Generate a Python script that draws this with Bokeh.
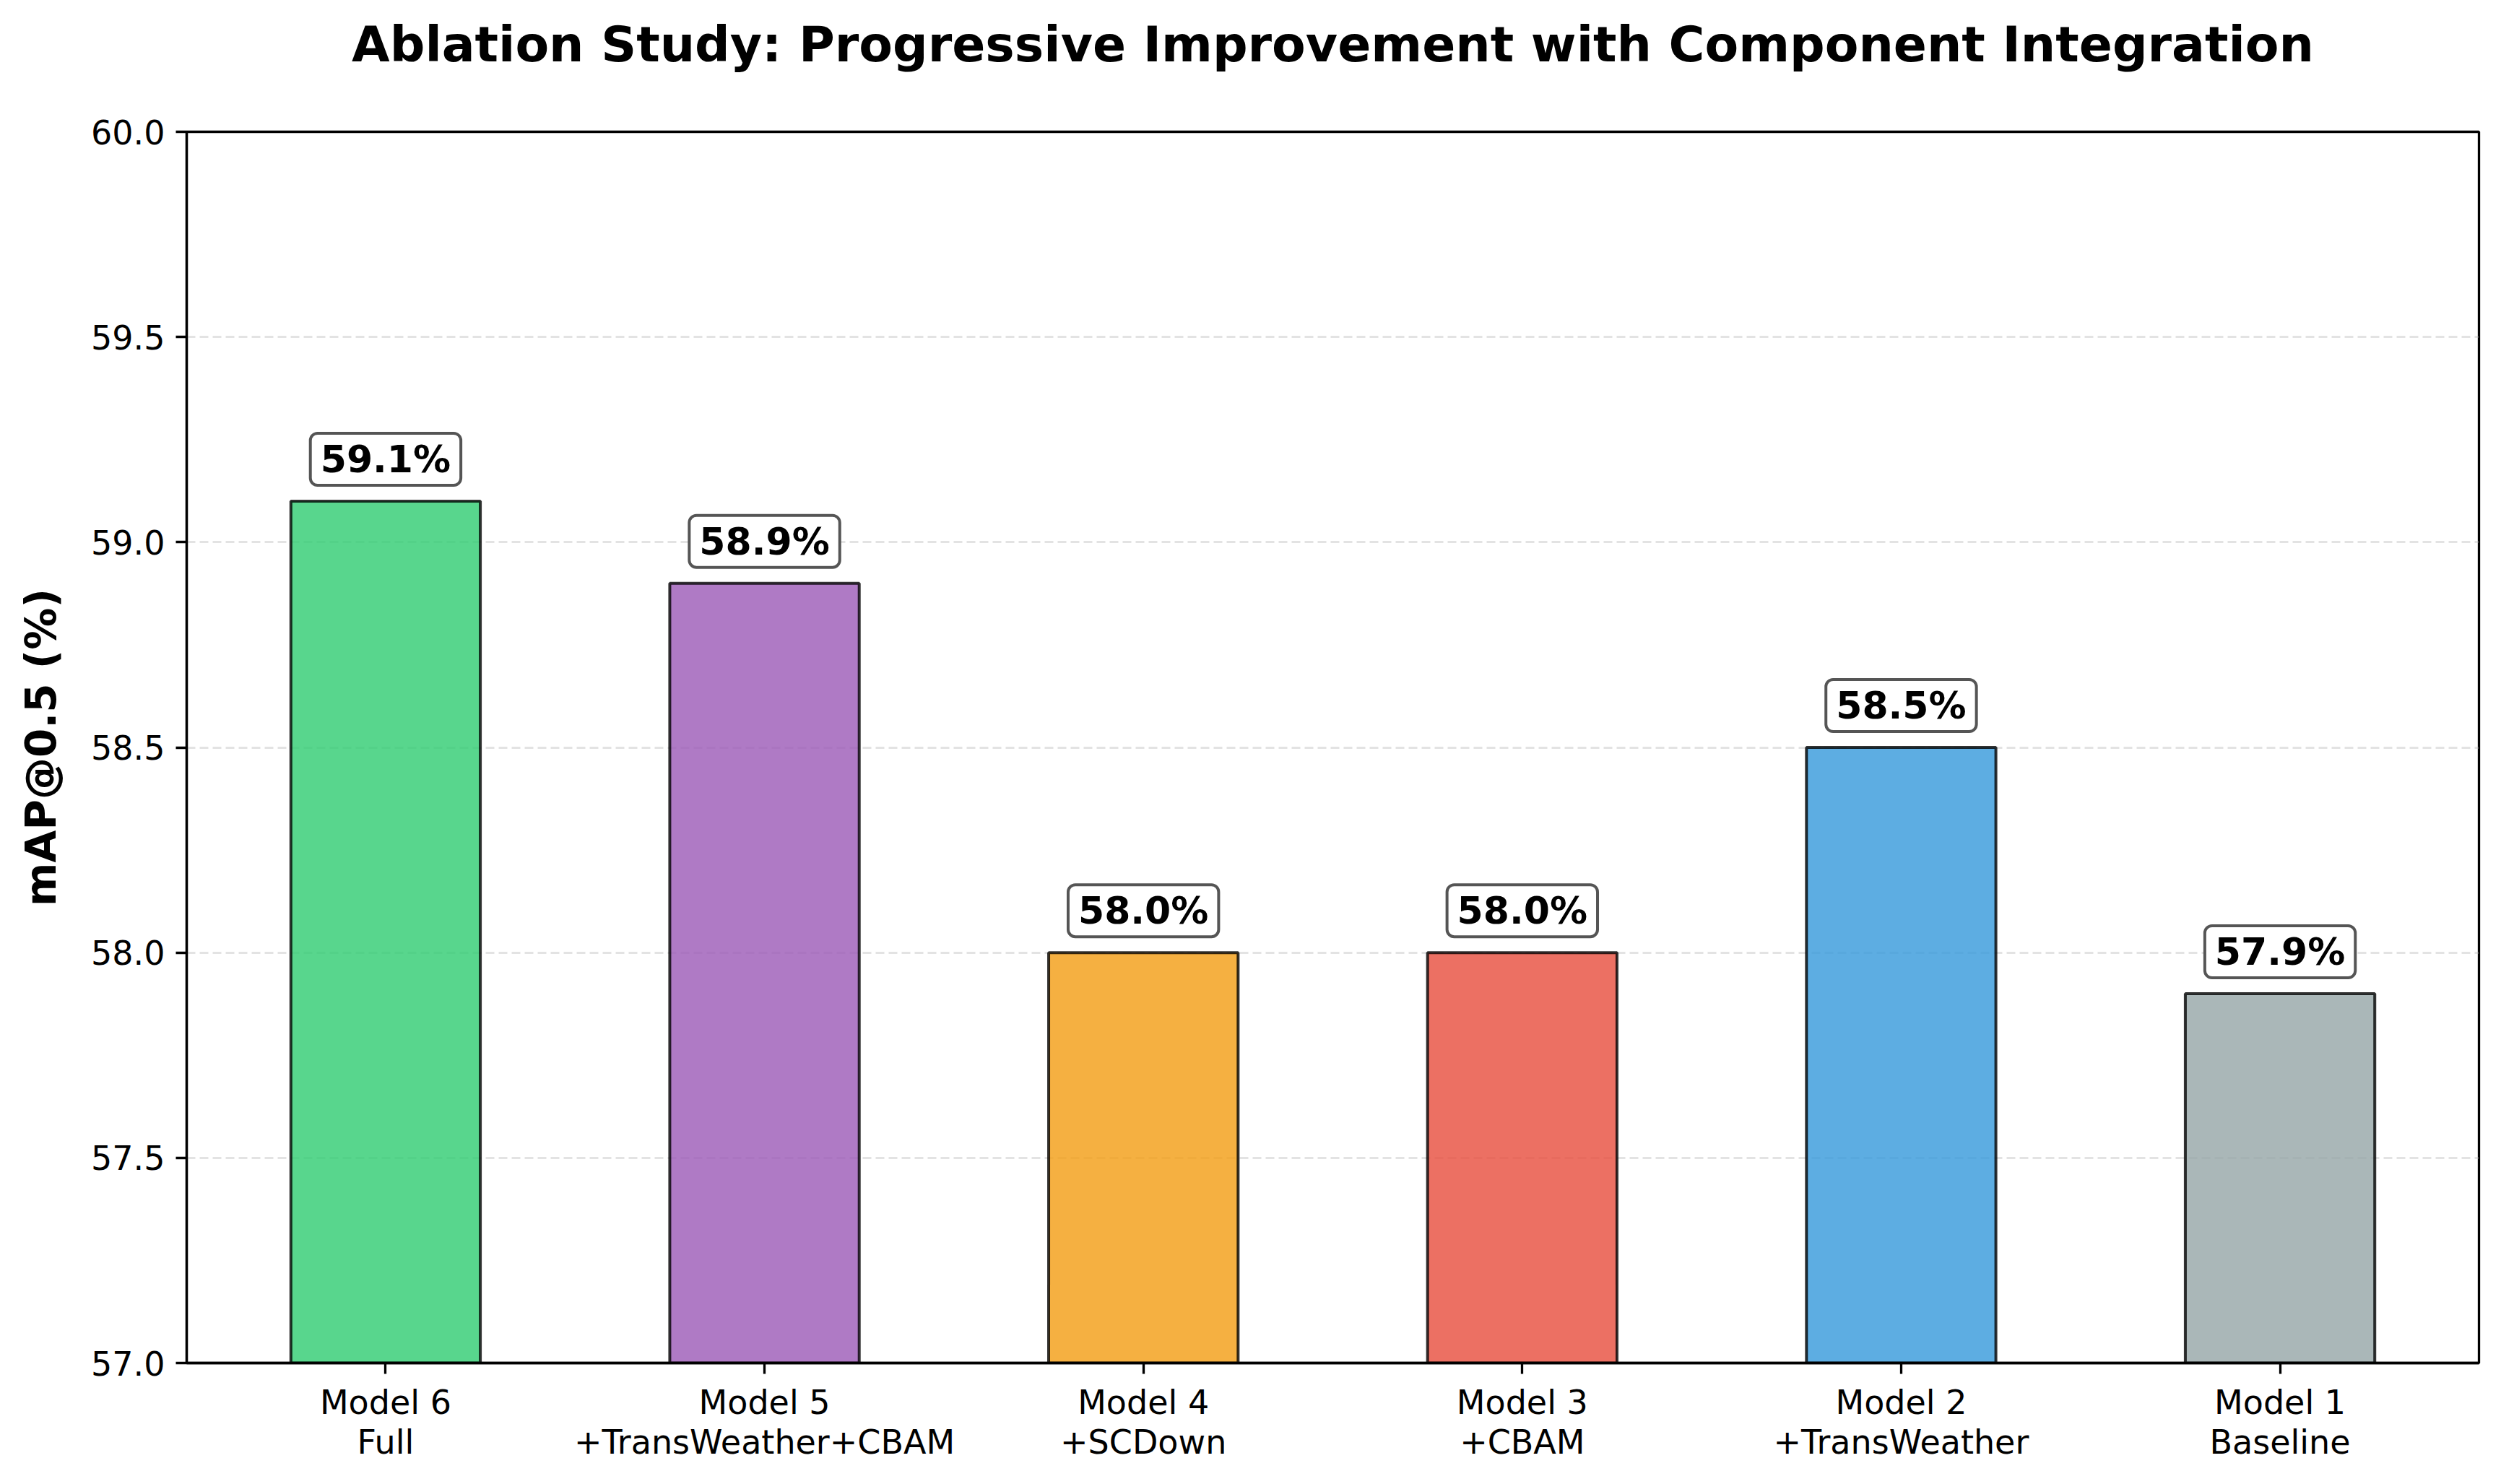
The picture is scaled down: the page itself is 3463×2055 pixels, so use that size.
from bokeh.plotting import figure
from bokeh.models import ColumnDataSource, FactorRange, Range1d, FixedTicker, NumeralTickFormatter, Title
from bokeh.core.properties import value
from bokeh.embed import file_html
from bokeh.resources import INLINE

# ---- data ----
models = ["Model 6", "Model 5", "Model 4", "Model 3", "Model 2", "Model 1"]
components = ["Full", "+TransWeather+CBAM", "+SCDown", "+CBAM", "+TransWeather", "Baseline"]
map50 = [59.1, 58.9, 58.0, 58.0, 58.5, 57.9]
colors = ["#2ecc71", "#9b59b6", "#f39c12", "#e74c3c", "#3498db", "#95a5a6"]
y_ticks = [57.0, 57.5, 58.0, 58.5, 59.0, 59.5, 60.0]
y_min, y_max = 57.0, 60.0

title_text = "Ablation Study: Progressive Improvement with Component Integration"
y_label = "mAP@0.5 (%)"

factors = [f"{m}\n{c}" for m, c in zip(models, components)]
labels = [f"{v:.1f}%" for v in map50]

source = ColumnDataSource(dict(x=factors, top=map50, color=colors, label=labels))

FONT = "DejaVu Sans"

p = figure(
    width=3440, height=2035,
    x_range=FactorRange(*factors, range_padding=0.025, range_padding_units="absolute"),
    y_range=Range1d(y_min, y_max),
    output_backend="svg", toolbar_location=None,
    min_border_left=258, min_border_right=8, min_border_top=182, min_border_bottom=148,
)
p.background_fill_color = "white"
p.border_fill_color = "white"
p.outline_line_color = "black"
p.outline_line_width = 3.3
p.outline_line_alpha = 1.0

# spacer between frame and title, then the title itself (outermost)
p.add_layout(Title(text=" ", text_font=FONT, text_font_size="56px"), "above")
p.add_layout(Title(text=title_text, text_font=FONT, text_font_size="68px",
                   text_font_style="bold", text_color="black", align="center"), "above")

p.vbar(x="x", top="top", bottom=y_min, width=0.5, source=source,
       fill_color="color", fill_alpha=0.8, line_color="black", line_alpha=0.8, line_width=4)

p.text(x="x", y="top", text="label", source=source,
       text_font=value(FONT), text_font_size="52px", text_font_style="bold",
       text_align="center", text_baseline="middle", y_offset=-58, text_color="black",
       background_fill_color="white", background_fill_alpha=1.0,
       border_line_color="#555555", border_line_width=4, border_line_alpha=1.0,
       padding=dict(left=14, right=14, top=6, bottom=6), border_radius=10)

# grid
p.xgrid.grid_line_color = None
p.ygrid.ticker = FixedTicker(ticks=y_ticks)
p.ygrid.grid_line_color = "#b0b0b0"
p.ygrid.grid_line_alpha = 0.35
p.ygrid.grid_line_dash = "12 6"
p.ygrid.grid_line_width = 3

# y axis
p.yaxis.ticker = FixedTicker(ticks=y_ticks)
p.yaxis.formatter = NumeralTickFormatter(format="0.0")
p.yaxis.axis_label = y_label
p.yaxis.axis_label_text_font = FONT
p.yaxis.axis_label_text_font_size = "58px"
p.yaxis.axis_label_text_font_style = "bold"
p.yaxis.axis_label_text_color = "black"
p.yaxis.axis_label_standoff = 32

for ax in (p.xaxis, p.yaxis):
    ax.axis_line_color = "black"
    ax.axis_line_width = 3.3
    ax.major_tick_line_color = "black"
    ax.major_tick_line_width = 3.3
    ax.major_tick_out = 15
    ax.major_tick_in = 0
    ax.minor_tick_line_color = None
    ax.major_label_text_font = FONT
    ax.major_label_text_font_size = "46px"
    ax.major_label_text_color = "black"

p.yaxis.major_label_standoff = 15
p.xaxis.major_label_standoff = 12
p.xaxis.major_label_text_line_height = 1.03

open("out.html", "w").write(file_html(p, INLINE))
